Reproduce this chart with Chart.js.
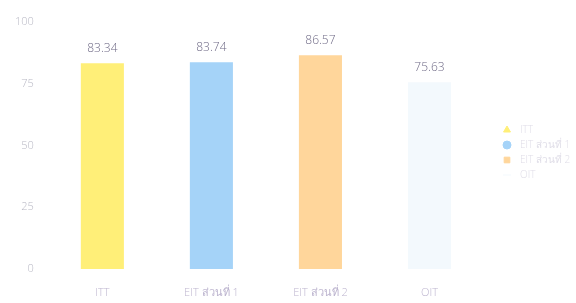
<!DOCTYPE html>
<html>
<head>
<meta charset="utf-8">
<script src="https://cdn.jsdelivr.net/npm/chart.js@4/dist/chart.umd.min.js"></script>
<style>
html,body{margin:0;padding:0;background:#fff;}
#wrap{width:576px;height:303px;}
</style>
</head>
<body>
<div id="wrap"><canvas id="c" width="576" height="303"></canvas></div>
<script>
const categories = ["ITT", "EIT ส่วนที่ 1", "EIT ส่วนที่ 2", "OIT"];
const scores = [83.34, 83.74, 86.57, 75.63];
const yTicks = [0, 25, 50, 75, 100];
const barColors = ["#FFEF78", "#A5D3F8", "#FFD69B", "#F3F9FD"];
const legendMarkers = ["triangle", "circle", "rect", "line"];
const FONT = "'Open Sans', 'Noto Sans', sans-serif";

const valueLabels = {
  id: "valueLabels",
  afterDatasetsDraw(chart) {
    const ctx = chart.ctx;
    const meta = chart.getDatasetMeta(0);
    ctx.save();
    ctx.font = "300 12px " + FONT;
    ctx.fillStyle = "#6f6a86";
    ctx.textAlign = "center";
    ctx.textBaseline = "middle";
    meta.data.forEach((bar, i) => {
      ctx.fillText(scores[i].toFixed(2), bar.x, bar.y - 15);
    });
    ctx.restore();
  }
};

const sideLegend = {
  id: "sideLegend",
  afterDraw(chart) {
    const ctx = chart.ctx;
    const x0 = chart.chartArea.right + 23;
    const rowH = 15;
    const y0 = chart.chartArea.bottom - 139;
    ctx.save();
    ctx.font = "300 10px " + FONT;
    ctx.textBaseline = "middle";
    ctx.textAlign = "left";
    categories.forEach((c, i) => {
      const y = y0 + i * rowH;
      ctx.fillStyle = barColors[i];
      ctx.strokeStyle = barColors[i];
      Chart.helpers.drawPoint(ctx, {
        pointStyle: legendMarkers[i], radius: 4, rotation: 0, borderWidth: 1.5
      }, x0, y);
      ctx.fillStyle = "#e0dee8";
      ctx.fillText(c, x0 + 13, y);
    });
    ctx.restore();
  }
};

new Chart(document.getElementById("c"), {
  type: "bar",
  data: {
    labels: categories,
    datasets: [{
      data: scores,
      backgroundColor: barColors,
      borderWidth: 0,
      categoryPercentage: 1,
      barPercentage: 0.395
    }]
  },
  options: {
    responsive: false,
    animation: false,
    layout: { padding: { top: 22, left: 1, right: 92, bottom: 0 } },
    plugins: {
      tooltip: { enabled: false },
      legend: { display: false }
    },
    scales: {
      x: {
        grid: { display: false, drawTicks: false },
        border: { display: false },
        afterFit(scale) { scale.height = 34; },
        ticks: {
          padding: 18,
          maxRotation: 0,
          color: "#bdb5cf",
          font: { size: 11, weight: 300, lineHeight: 1, family: FONT }
        }
      },
      y: {
        min: 0,
        max: 100,
        afterBuildTicks(axis) { axis.ticks = yTicks.map(v => ({ value: v })); },
        grid: { display: false, drawTicks: false },
        border: { display: false },
        ticks: {
          padding: 14,
          color: "#b8b8c4",
          font: { size: 11, weight: 300, family: FONT }
        }
      }
    }
  },
  plugins: [valueLabels, sideLegend]
});
</script>
</body>
</html>
